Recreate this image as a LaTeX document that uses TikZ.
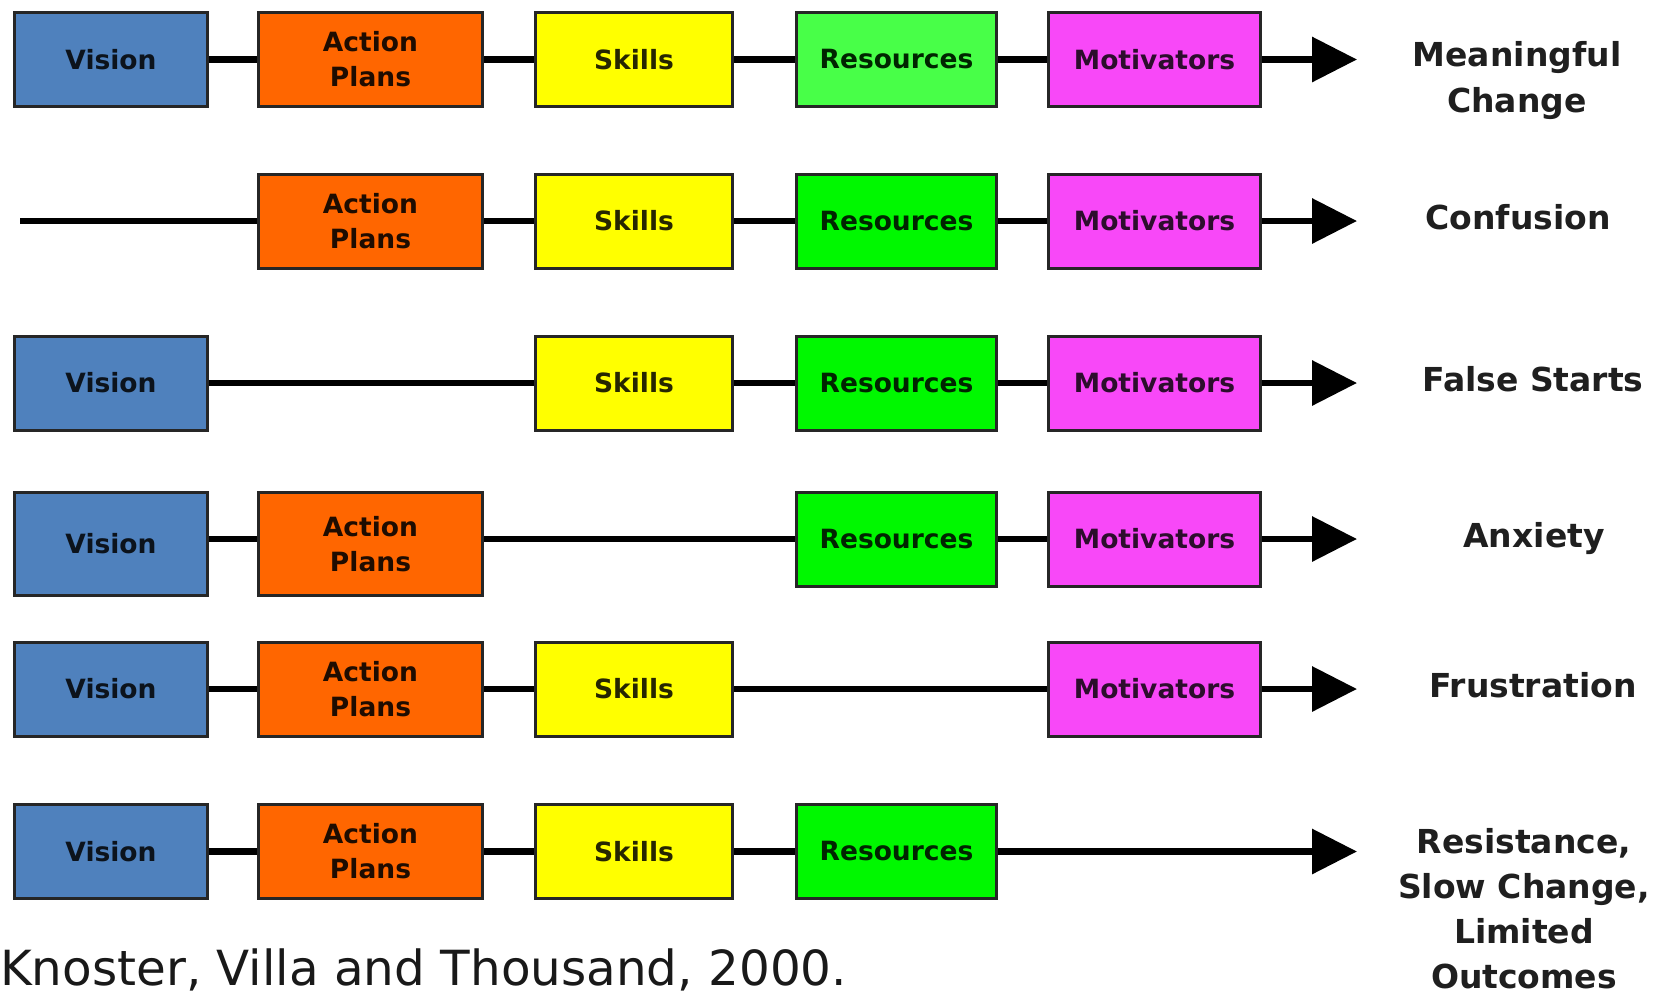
\documentclass[tikz,border=0pt]{standalone}
\usepackage{fontspec}
\setmainfont{DejaVu Sans}
\usetikzlibrary{arrows.meta}

\definecolor{cVision}{HTML}{4F81BD}
\definecolor{cPlans}{HTML}{FF6600}
\definecolor{cSkills}{HTML}{FFFF00}
\definecolor{cResLight}{HTML}{48FF48}
\definecolor{cRes}{HTML}{00F800}
\definecolor{cMotiv}{HTML}{F848F8}
\definecolor{cEdge}{HTML}{262626}

\tikzset{
  box/.style={draw=cEdge, line width=3pt, inner sep=0pt, align=center,
    minimum height=94pt, font=\bfseries\fontsize{26.5}{35}\selectfont},
  vision/.style={box, fill=cVision, text=cVision!15!black, minimum width=193pt},
  plans/.style={box, fill=cPlans, text=cPlans!12!black, minimum width=224pt},
  skills/.style={box, fill=cSkills, text=cSkills!15!black, minimum width=197pt},
  res/.style={box, fill=cRes, text=cRes!15!black, minimum width=200pt},
  reslight/.style={res, fill=cResLight},
  motiv/.style={box, fill=cMotiv, text=cMotiv!18!black, minimum width=212pt},
  link/.style={line width=6.5pt, black},
  lead/.style={link, -{Triangle[length=45pt,width=44pt]}},
  outcome/.style={anchor=base, align=center, inner sep=0pt,
    font=\bfseries\fontsize{33}{45}\selectfont, text=black!88}
}

\begin{document}
\begin{tikzpicture}[x=1pt,y=-1pt]
\useasboundingbox (0,0) rectangle (1673,997);

% column centres: 111, 370.5, 634, 896.5, 1154.5 ; arrow tips at 1357
% (outcome labels are placed by the baseline of their last line)

% Row 1: everything present
\node[vision]   (v1) at (111,59.5)    {Vision};
\node[plans]    (a1) at (370.5,59.5)  {Action\\Plans};
\node[skills]   (s1) at (634,59.5)    {Skills};
\node[reslight] (r1) at (896.5,59.5)  {Resources};
\node[motiv]    (m1) at (1154.5,59.5) {Motivators};
\coordinate (e1) at (1357,59.5);
\draw[link] (v1) -- (a1);
\draw[link] (a1) -- (s1);
\draw[link] (s1) -- (r1);
\draw[link] (r1) -- (m1);
\draw[lead] (m1) -- (e1);
\node[outcome, font=\bfseries\fontsize{33}{46}\selectfont] (o1) at (1517,112) {Meaningful\\Change};

% Row 2: no vision
\coordinate (b2) at (20,221);
\node[plans]    (a2) at (370.5,221)  {Action\\Plans};
\node[skills]   (s2) at (634,221)    {Skills};
\node[res]      (r2) at (896.5,221)  {Resources};
\node[motiv]    (m2) at (1154.5,221) {Motivators};
\coordinate (e2) at (1357,221);
\draw[link] (b2) -- (a2);
\draw[link] (a2) -- (s2);
\draw[link] (s2) -- (r2);
\draw[link] (r2) -- (m2);
\draw[lead] (m2) -- (e2);
\node[outcome] (o2) at (1518,229) {Confusion};

% Row 3: no action plans
\node[vision]   (v3) at (111,383)    {Vision};
\node[skills]   (s3) at (634,383)    {Skills};
\node[res]      (r3) at (896.5,383)  {Resources};
\node[motiv]    (m3) at (1154.5,383) {Motivators};
\coordinate (e3) at (1357,383);
\draw[link] (v3) -- (s3);
\draw[link] (s3) -- (r3);
\draw[link] (r3) -- (m3);
\draw[lead] (m3) -- (e3);
\node[outcome] (o3) at (1533,391) {False Starts};

% Row 4: no skills
\node[vision, minimum height=103pt] (v4) at (111,544)   {Vision};
\node[plans, minimum height=103pt]  (a4) at (370.5,544) {Action\\Plans};
\node[res]      (r4) at (896.5,539)  {Resources};
\node[motiv]    (m4) at (1154.5,539) {Motivators};
\coordinate (e4) at (1357,539);
\draw[link] (v4.east |- r4.west) -- (a4.west |- r4.west);
\draw[link] (a4.east |- r4.west) -- (r4.west);
\draw[link] (r4) -- (m4);
\draw[lead] (m4) -- (e4);
\node[outcome] (o4) at (1534,547) {Anxiety};

% Row 5: no resources
\node[vision]   (v5) at (111,689)    {Vision};
\node[plans]    (a5) at (370.5,689)  {Action\\Plans};
\node[skills]   (s5) at (634,689)    {Skills};
\node[motiv]    (m5) at (1154.5,689) {Motivators};
\coordinate (e5) at (1357,689);
\draw[link] (v5) -- (a5);
\draw[link] (a5) -- (s5);
\draw[link] (s5) -- (m5);
\draw[lead] (m5) -- (e5);
\node[outcome] (o5) at (1533,697) {Frustration};

% Row 6: no motivators
\node[vision]   (v6) at (111,851.5)   {Vision};
\node[plans]    (a6) at (370.5,851.5) {Action\\Plans};
\node[skills]   (s6) at (634,851.5)   {Skills};
\node[res]      (r6) at (896.5,851.5) {Resources};
\coordinate (e6) at (1357,851.5);
\draw[link] (v6) -- (a6);
\draw[link] (a6) -- (s6);
\draw[link] (s6) -- (r6);
\draw[lead] (r6) -- (e6);
\node[outcome] (o6) at (1524,988) {Resistance,\\Slow Change,\\Limited\\Outcomes};

% Source line
\node[anchor=base west, inner sep=0pt, font=\fontsize{48.4}{58}\selectfont, text=black!90]
  (src) at (0,985) {Knoster, Villa and Thousand, 2000.};
\end{tikzpicture}
\end{document}
